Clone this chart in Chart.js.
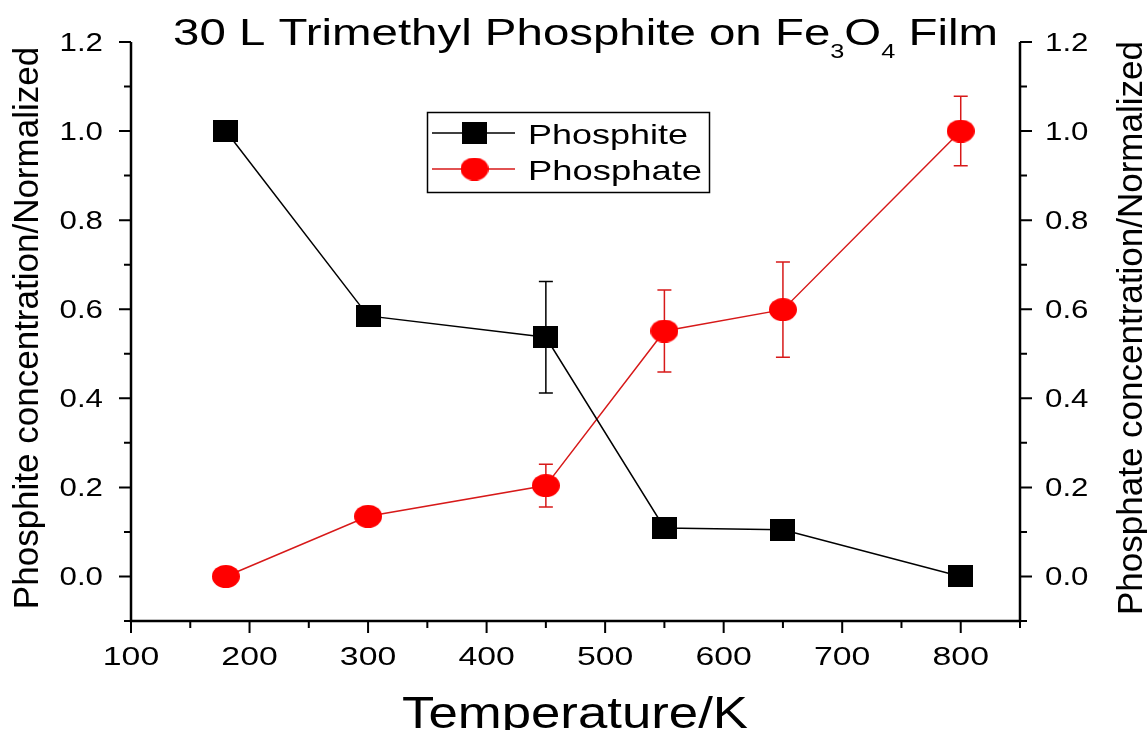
<!DOCTYPE html>
<html lang="en">

<head>
  <meta charset="UTF-8">
  <title>30 L Trimethyl Phosphite on Fe3O4 Film</title>
  <script src="https://cdn.jsdelivr.net/npm/chart.js"></script>
  <style>
    body {
      margin: 0;
      background: #fff;
    }

    .chart-box {
      width: 1147px;
      height: 730px;
    }
  </style>
</head>

<body>
  <div class="chart-box">
    <canvas id="tpdChart"></canvas>
  </div>

  <script>
    // values
    const temperature = [180, 300, 450, 550, 650, 800];
    const phosphite = [1.0, 0.585, 0.537, 0.109, 0.105, 0.0];
    const phosphiteErr = [0, 0, 0.125, 0, 0, 0];
    const phosphate = [0.0, 0.135, 0.204, 0.551, 0.599, 1.0];
    const phosphateErr = [0, 0, 0.048, 0.092, 0.107, 0.078];

    const xTicks = [100, 200, 300, 400, 500, 600, 700, 800];
    const xMinor = [150, 250, 350, 450, 550, 650, 750, 850];
    const yTicks = [0.0, 0.2, 0.4, 0.6, 0.8, 1.0, 1.2];
    const yMinor = [-0.1, 0.1, 0.3, 0.5, 0.7, 0.9, 1.1];

    const FONT = '"Liberation Sans", Arial, sans-serif';
    const lineRed = 'rgb(215, 25, 25)';

    // marker images (squares and slightly flattened circles like the original)
    function makeMarker(w, h, color, shape) {
      const c = document.createElement('canvas');
      c.width = w;
      c.height = h;
      const g = c.getContext('2d');
      g.fillStyle = color;
      if (shape === 'rect') {
        g.fillRect(0, 0, w, h);
      } else {
        g.beginPath();
        g.ellipse(w / 2, h / 2, w / 2, h / 2, 0, 0, Math.PI * 2);
        g.fill();
      }
      return c;
    }
    const squareMarker = makeMarker(25, 22, '#000', 'rect');
    const circleMarker = makeMarker(28, 23, '#ff0000', 'ellipse');

    // text drawn with a horizontal stretch (the source figure is widened)
    function stretchText(ctx, str, x, y, size, opts = {}) {
      ctx.font = size + 'px ' + FONT;
      const w = ctx.measureText(str).width;
      const sx = opts.width ? opts.width / w : (opts.sx || 1);
      let x0 = x;
      if (opts.align === 'center') x0 = x - w * sx / 2;
      if (opts.align === 'right') x0 = x - w * sx;
      ctx.save();
      ctx.translate(x0, y);
      ctx.scale(sx, 1);
      ctx.textAlign = 'left';
      ctx.textBaseline = 'alphabetic';
      ctx.fillText(str, 0, 0);
      ctx.restore();
      return w * sx;
    }

    function drawErrors(ctx, xs, ys, errs, xScale, yScale, color) {
      ctx.save();
      ctx.strokeStyle = color;
      ctx.lineWidth = 1.5;
      xs.forEach((t, i) => {
        if (!errs[i]) return;
        const px = xScale.getPixelForValue(t);
        const top = yScale.getPixelForValue(ys[i] + errs[i]);
        const bot = yScale.getPixelForValue(ys[i] - errs[i]);
        ctx.beginPath();
        ctx.moveTo(px, top);
        ctx.lineTo(px, bot);
        ctx.moveTo(px - 7, top);
        ctx.lineTo(px + 7, top);
        ctx.moveTo(px - 7, bot);
        ctx.lineTo(px + 7, bot);
        ctx.stroke();
      });
      ctx.restore();
    }

    const figurePlugin = {
      id: 'figure',
      beforeDatasetsDraw(chart) {
        const { ctx, scales } = chart;
        drawErrors(ctx, temperature, phosphite, phosphiteErr, scales.x, scales.y, '#000');
        drawErrors(ctx, temperature, phosphate, phosphateErr, scales.x, scales.y2, lineRed);
      },
      afterDraw(chart) {
        const { ctx, chartArea: a, scales } = chart;
        const xs = scales.x, ys = scales.y;
        ctx.save();
        ctx.fillStyle = '#000';
        ctx.strokeStyle = '#000';

        // axis lines: left, bottom, right
        ctx.lineWidth = 2.5;
        ctx.beginPath();
        ctx.moveTo(a.left, a.top);
        ctx.lineTo(a.left, a.bottom);
        ctx.lineTo(a.right, a.bottom);
        ctx.lineTo(a.right, a.top);
        ctx.stroke();

        // tick marks
        ctx.lineWidth = 2;
        ctx.beginPath();
        xTicks.forEach(v => {
          const p = xs.getPixelForValue(v);
          ctx.moveTo(p, a.bottom);
          ctx.lineTo(p, a.bottom + 12);
        });
        xMinor.forEach(v => {
          const p = xs.getPixelForValue(v);
          ctx.moveTo(p, a.bottom);
          ctx.lineTo(p, a.bottom + 7);
        });
        yTicks.forEach(v => {
          const p = ys.getPixelForValue(v);
          ctx.moveTo(a.left, p);
          ctx.lineTo(a.left - 12, p);
          ctx.moveTo(a.right, p);
          ctx.lineTo(a.right + 12, p);
        });
        yMinor.forEach(v => {
          const p = ys.getPixelForValue(v);
          ctx.moveTo(a.left, p);
          ctx.lineTo(a.left - 7, p);
          ctx.moveTo(a.right, p);
          ctx.lineTo(a.right + 7, p);
        });
        ctx.stroke();

        // tick labels
        xTicks.forEach(v => {
          stretchText(ctx, String(v), xs.getPixelForValue(v), a.bottom + 44, 26, { sx: 1.3, align: 'center' });
        });
        yTicks.forEach(v => {
          const p = ys.getPixelForValue(v) + 9;
          stretchText(ctx, v.toFixed(1), a.left - 28, p, 25, { sx: 1.25, align: 'right' });
          stretchText(ctx, v.toFixed(1), a.right + 25, p, 25, { sx: 1.25 });
        });

        // axis titles
        stretchText(ctx, 'Temperature/K', 402, 728, 45, { width: 346 });

        ctx.font = '35px ' + FONT;
        ctx.textAlign = 'center';
        ctx.textBaseline = 'alphabetic';
        ctx.save();
        ctx.translate(38, 328);
        ctx.rotate(-Math.PI / 2);
        ctx.fillText('Phosphite concentration/Normalized', 0, 0);
        ctx.restore();
        ctx.save();
        ctx.translate(1142, 328);
        ctx.rotate(-Math.PI / 2);
        ctx.fillText('Phosphate concentration/Normalized', 0, 0);
        ctx.restore();

        // chart title with subscripts
        const parts = [
          { t: '30 L Trimethyl Phosphite on Fe', size: 37.5, dy: 0 },
          { t: '3', size: 20, dy: 13 },
          { t: 'O', size: 37.5, dy: 0 },
          { t: '4', size: 20, dy: 13 },
          { t: ' Film', size: 37.5, dy: 0 }
        ];
        let natural = 0;
        parts.forEach(p => {
          ctx.font = p.size + 'px ' + FONT;
          p.w = ctx.measureText(p.t).width;
          natural += p.w;
        });
        const sx = 825 / natural;
        let tx = 173;
        parts.forEach(p => {
          tx += stretchText(ctx, p.t, tx, 45 + p.dy, p.size, { sx: sx });
        });

        // legend
        ctx.lineWidth = 1.5;
        ctx.strokeRect(427.5, 112.5, 282, 80);
        const rows = [
          { ds: chart.data.datasets[0], y: 133, w: 160 },
          { ds: chart.data.datasets[1], y: 169, w: 174 }
        ];
        rows.forEach(r => {
          ctx.strokeStyle = r.ds.borderColor;
          ctx.lineWidth = 1.5;
          ctx.beginPath();
          ctx.moveTo(432, r.y);
          ctx.lineTo(515, r.y);
          ctx.stroke();
          const img = r.ds.pointStyle;
          ctx.drawImage(img, 474.5 - img.width / 2, r.y - img.height / 2);
          ctx.fillStyle = '#000';
          stretchText(ctx, r.ds.label, 528, r.y + 10.5, 28, { width: r.w });
        });

        ctx.restore();
      }
    };

    new Chart(document.getElementById('tpdChart').getContext('2d'), {
      type: 'line',
      data: {
        datasets: [{
          label: 'Phosphite',
          data: temperature.map((t, i) => ({ x: t, y: phosphite[i] })),
          yAxisID: 'y',
          borderColor: '#000',
          borderWidth: 1.5,
          pointStyle: squareMarker,
          pointRadius: 12,
          clip: false
        }, {
          label: 'Phosphate',
          data: temperature.map((t, i) => ({ x: t, y: phosphate[i] })),
          yAxisID: 'y2',
          borderColor: lineRed,
          borderWidth: 1.5,
          pointStyle: circleMarker,
          pointRadius: 12,
          clip: false
        }]
      },
      options: {
        responsive: true,
        maintainAspectRatio: false,
        animation: false,
        layout: {
          padding: { left: 131, right: 127, top: 42, bottom: 109 }
        },
        plugins: {
          legend: { display: false },
          tooltip: { enabled: false }
        },
        scales: {
          x: { type: 'linear', display: false, min: 100, max: 850 },
          y: { display: false, min: -0.1, max: 1.2 },
          y2: { display: false, position: 'right', min: -0.1, max: 1.2 }
        }
      },
      plugins: [figurePlugin]
    });
  </script>
</body>

</html>
